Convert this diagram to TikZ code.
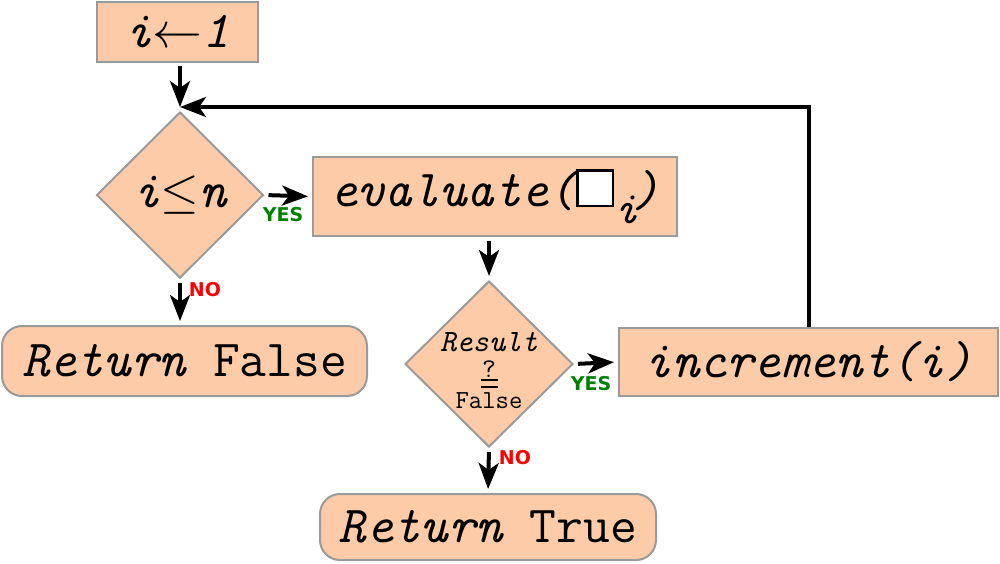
\documentclass[tikz,border=0pt]{standalone}
\usepackage{fontspec}
\newfontfamily\labfont{DejaVu Sans}
\usetikzlibrary{shapes.geometric,arrows.meta}
\definecolor{peach}{HTML}{FDCBA8}
\definecolor{bord}{HTML}{9A9A9A}
\definecolor{yesgreen}{HTML}{008000}
\definecolor{nored}{HTML}{FF0000}
\newcommand{\whitesq}{{\setlength\fboxsep{0pt}\setlength\fboxrule{1.3pt}\raisebox{1pt}{\fcolorbox{black}{white}{\rule{0pt}{16.5pt}\rule{16.5pt}{0pt}}}}}
\newcommand{\qeq}{\vbox{\hrule width 8.5pt height 1pt\kern 2.3pt\hrule width 8.5pt height 1pt}}
\begin{document}
\begin{tikzpicture}[x=0.5pt,y=-0.5pt,
  base/.style={draw=bord,line width=1pt,fill=peach,inner sep=0pt,
    font=\fontsize{26}{30}\selectfont\ttfamily\itshape},
  procbox/.style={base,rectangle},
  termbox/.style={base,rectangle,rounded corners=10pt},
  decision/.style={base,diamond,aspect=1},
  arr/.style={line width=2pt,-{Stealth[length=13pt,width=10pt,inset=3.5pt]}},
  yeslab/.style={font=\labfont\bfseries\fontsize{9.5}{10}\selectfont,text=yesgreen,inner sep=0pt},
  nolab/.style={font=\labfont\bfseries\fontsize{9.5}{10}\selectfont,text=nored,inner sep=0pt}]
\useasboundingbox (0,0) rectangle (1000,563);

\node[procbox,minimum width=80.5pt,minimum height=30pt] (init) at (177.5,32) {i$\leftarrow$1};
\node[decision,minimum width=83.5pt,minimum height=83pt] (d1) at (180,195) {i$\leq$n};
\node[procbox,minimum width=182pt,minimum height=39.5pt] (eval) at (495,196.5)
  {evaluate(\whitesq\raisebox{-0.32em}{\fontsize{23}{23}\selectfont i}\kern-3pt)};
\node[decision,minimum width=84pt,minimum height=83pt,
      font=\fontsize{13}{13}\selectfont\ttfamily\itshape] (d2) at (489,364)
  {\hbox to 0pt{\hss\vbox{\offinterlineskip\kern 6.5pt\halign{\hfil#\hfil\cr
     \fontsize{15.5}{15.5}\selectfont Result\cr
     \noalign{\kern 4.5pt}
     \fontsize{13.5}{13.5}\selectfont\upshape ?\cr
     \noalign{\kern 0.8pt}
     \qeq\cr
     \noalign{\kern 2.5pt}
     \fontsize{13}{13}\selectfont\upshape False\cr}}\hss}};
\node[procbox,minimum width=189.5pt,minimum height=34pt] (inc) at (808.5,362) {increment(i)};
\node[termbox,minimum width=182.5pt,minimum height=35pt] (retf) at (184.5,361) {Return {\upshape False}};
\node[termbox,minimum width=168pt,minimum height=33pt] (rett) at (488,527) {Return {\upshape True}};

\coordinate (join) at (180,107);

\draw[arr,shorten <=1.5pt] (init.south -| join) -- (join);
\draw[arr] (inc.north -| 809,0) -- (809,107) -- (join);
\draw[arr,shorten <=2pt,shorten >=2pt] (d1.east) -- (eval.west);
\draw[arr,shorten <=2pt,shorten >=2pt] (eval.south -| d2.north) -- (d2.north);
\draw[arr,shorten <=2pt,shorten >=2pt] (d2.east) -- (inc.west);
\draw[arr,shorten <=2pt,shorten >=2pt] (d1.south) -- (d1.south |- retf.north);
\draw[arr,shorten <=2pt,shorten >=2pt] (d2.south) -- (rett.north);

\node[yeslab] (y1) at (283,215) {YES};
\node[nolab] (n1) at (205,290) {NO};
\node[yeslab] (y2) at (591,384) {YES};
\node[nolab] (n2) at (515,458) {NO};
\end{tikzpicture}
\end{document}
